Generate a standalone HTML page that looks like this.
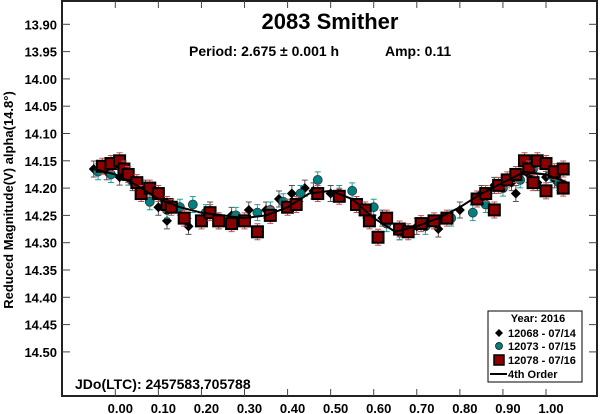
<!DOCTYPE html>
<html><head><meta charset="utf-8">
<style>
html,body{margin:0;padding:0;background:#fff;}
svg{display:block;font-family:"Liberation Sans",Arial,sans-serif;font-weight:bold;}
</style></head>
<body>
<svg id="chart" width="600" height="414" viewBox="0 0 600 414">
  <rect x="0" y="0" width="600" height="414" fill="#fff"/>
  <g id="marks"></g>
  <g id="axes"></g>
  <text x="330" y="29" font-size="22" text-anchor="middle">2083 Smither</text>
  <text x="189" y="56" font-size="14">Period: 2.675 ± 0.001 h</text>
  <text x="385" y="56" font-size="14">Amp: 0.11</text>
  <text x="75" y="389" font-size="14">JDo(LTC): 2457583.705788</text>
  <text transform="translate(13,200) rotate(-90)" font-size="13" text-anchor="middle">Reduced Magnitude(V) alpha(14.8°)</text>
  <g>
    <rect x="488" y="311" width="94" height="71" fill="#fff" stroke="#000" stroke-width="1"/>
    <text x="538" y="322" font-size="11" text-anchor="middle">Year: 2016</text>
    <g>
      <path d="M499,329 l4,4 l-4,4 l-4,-4z" fill="#000"/>
      <text x="508" y="337" font-size="11">12068 - 07/14</text>
    </g>
    <g>
      <circle cx="499" cy="346" r="3.5" fill="#008080" stroke="#000" stroke-width="0.7"/>
      <text x="508" y="350" font-size="11">12073 - 07/15</text>
    </g>
    <g>
      <rect x="494" y="355" width="10" height="10" fill="#8b0000" stroke="#000" stroke-width="1.5"/>
      <text x="508" y="364" font-size="11">12078 - 07/16</text>
    </g>
    <g>
      <line x1="490" y1="374" x2="507" y2="374" stroke="#000" stroke-width="2"/>
      <text x="508" y="378" font-size="11">4th Order</text>
    </g>
  </g>
</svg>
<script>
const xTicks = [0.0,0.1,0.2,0.3,0.4,0.5,0.6,0.7,0.8,0.9,1.0];
const xTickLabels = ["0.00","0.10","0.20","0.30","0.40","0.50","0.60","0.70","0.80","0.90","1.00"];
const yTicks = [13.90,13.95,14.00,14.05,14.10,14.15,14.20,14.25,14.30,14.35,14.40,14.45,14.50];
const yTickLabels = ["13.90","13.95","14.00","14.05","14.10","14.15","14.20","14.25","14.30","14.35","14.40","14.45","14.50"];

const s1Phase = [-0.05,-0.02,0.01,0.04,0.07,0.10,0.12,0.17,0.22,0.27,0.31,0.35,0.38,0.41,0.44,0.46,0.50,0.58,0.62,0.66,0.70,0.75,0.80,0.85,0.88,0.92,0.93,0.96,0.98,1.00,1.02];
const s1Mag = [14.165,14.17,14.18,14.19,14.20,14.235,14.26,14.27,14.24,14.25,14.24,14.24,14.22,14.21,14.20,14.205,14.21,14.24,14.255,14.28,14.27,14.275,14.24,14.21,14.195,14.19,14.21,14.175,14.19,14.18,14.185];

const s2Phase = [-0.04,-0.01,0.03,0.08,0.12,0.15,0.18,0.21,0.24,0.28,0.33,0.36,0.39,0.43,0.47,0.52,0.55,0.60,0.63,0.66,0.72,0.78,0.83,0.86,0.90,0.94,0.97,1.01,1.03];
const s2Mag = [14.17,14.175,14.18,14.225,14.24,14.235,14.23,14.245,14.26,14.25,14.245,14.24,14.225,14.21,14.185,14.21,14.205,14.235,14.265,14.28,14.27,14.255,14.245,14.23,14.20,14.185,14.165,14.175,14.19];

const s3Phase = [-0.03,-0.01,0.01,0.02,0.03,0.05,0.06,0.08,0.10,0.12,0.13,0.16,0.20,0.22,0.24,0.27,0.30,0.33,0.36,0.40,0.42,0.47,0.52,0.56,0.58,0.59,0.61,0.63,0.66,0.68,0.71,0.74,0.77,0.84,0.86,0.88,0.89,0.91,0.93,0.95,0.96,0.97,0.98,1.00,1.00,1.02,1.04,1.04];
const s3Mag = [14.16,14.155,14.15,14.165,14.175,14.19,14.21,14.20,14.21,14.23,14.235,14.255,14.26,14.245,14.26,14.265,14.26,14.28,14.25,14.235,14.23,14.21,14.215,14.23,14.24,14.26,14.29,14.255,14.275,14.28,14.265,14.26,14.255,14.22,14.21,14.24,14.195,14.185,14.175,14.15,14.165,14.19,14.15,14.155,14.205,14.17,14.165,14.20];

const fitPhase = [-0.05,0.0,0.05,0.1,0.15,0.2,0.25,0.3,0.35,0.4,0.45,0.5,0.55,0.6,0.65,0.7,0.75,0.8,0.85,0.9,0.95,1.0,1.05];
const fitMag = [14.165,14.175,14.195,14.22,14.235,14.245,14.25,14.255,14.25,14.235,14.21,14.205,14.22,14.255,14.28,14.27,14.255,14.235,14.21,14.19,14.17,14.175,14.19];

const X0=62, X1=597, Y0=1, Y1=396;
function xs(p){ return 115.3 + p*430.7; }
function ys(m){ return 24.3 + (m-13.90)*546; }
const NS="http://www.w3.org/2000/svg";
function mk(tag, attrs, parent){ const e=document.createElementNS(NS,tag); for(const k in attrs) e.setAttribute(k,attrs[k]); parent.appendChild(e); return e; }

const axes=document.getElementById('axes');
const marks=document.getElementById('marks');
const frame=mk('rect',{x:X0,y:Y0,width:X1-X0,height:Y1-Y0,fill:'none',stroke:'#222','stroke-width':2},axes);


xTicks.forEach((t,i)=>{
  const x=xs(t);
  const a=mk('line',{x1:x,y1:Y1,x2:x,y2:Y1-7,stroke:'#444','stroke-width':1},axes);
  
  
  const b=mk('line',{x1:x,y1:Y0,x2:x,y2:Y0+7,stroke:'#444','stroke-width':1},axes);
  
  
  const l=mk('text',{x:x+5,y:413,'font-size':13,'text-anchor':'middle'},axes);
  l.textContent=xTickLabels[i];
  
  
});
yTicks.forEach((t,i)=>{
  const y=ys(t);
  const a=mk('line',{x1:X0,y1:y,x2:X0+8,y2:y,stroke:'#444','stroke-width':1},axes);
  
  
  const b=mk('line',{x1:X1-8,y1:y,x2:X1,y2:y,stroke:'#444','stroke-width':1},axes);
  
  
  const l=mk('text',{x:X0-5,y:y+5,'font-size':13,'text-anchor':'end'},axes);
  l.textContent=yTickLabels[i];
  
  
});

function errbar(x,y,col){
  const g=mk('path',{d:`M${x},${y-8}V${y+8}M${x-3},${y-8}h6M${x-3},${y+8}h6`,stroke:col,'stroke-width':1,fill:'none'},marks);
  
  
}
s1Phase.forEach((p,i)=>{
  const x=xs(p), y=ys(s1Mag[i]);
  errbar(x,y,'#555');
  const d=mk('path',{d:`M${x},${y-5}l5,5l-5,5l-5,-5z`,fill:'#000'},marks);
  
  
});
s2Phase.forEach((p,i)=>{
  const x=xs(p), y=ys(s2Mag[i]);
  errbar(x,y,'#20a0a0');
  const c=mk('circle',{cx:x,cy:y,r:4.5,fill:'#008080',stroke:'#333','stroke-width':0.8},marks);
  
  
});
s3Phase.forEach((p,i)=>{
  const x=xs(p), y=ys(s3Mag[i]);
  errbar(x,y,'#c05050');
  const r=mk('rect',{x:x-5.5,y:y-5.5,width:11,height:11,fill:'#8b0000',stroke:'#000','stroke-width':2},marks);
  
  
});
const fit=mk('polyline',{points:fitPhase.map((p,i)=>xs(p)+','+ys(fitMag[i])).join(' '),fill:'none',stroke:'#000','stroke-width':2},marks);


</script>
</body></html>
